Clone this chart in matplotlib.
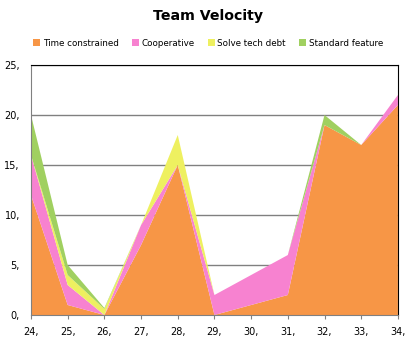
import matplotlib.pyplot as plt
import numpy as np

sprints = [24, 25, 26, 27, 28, 29, 30, 31, 32, 33, 34]
time_constrained = [12, 1, 0, 7, 15, 0, 1, 2, 19, 17, 21]
cooperative = [4, 2, 0, 2, 0, 2, 3, 4, 0, 0, 1]
solve_tech_debt = [0, 1, 0.6, 0, 3, 0, 0, 0, 0, 0, 0]
standard_feature = [4, 1, 0.1, 0, 0, 0, 0, 0, 1, 0, 0]

labels = ["Time constrained", "Cooperative", "Solve tech debt", "Standard feature"]
colors = ["#F79646", "#F782D0", "#EEF060", "#A0D060"]

fig = plt.figure(figsize=(4.16, 3.46), dpi=100)
ax = fig.add_axes([0.0745, 0.0896, 0.882, 0.7225])

ax.stackplot(sprints, time_constrained, cooperative, solve_tech_debt, standard_feature,
             colors=colors, labels=labels, linewidth=0)

ax.set_xlim(24, 34)
ax.set_ylim(0, 25)
ax.set_yticks([0, 5, 10, 15, 20, 25])
ax.set_yticklabels([f"{v}," for v in [0, 5, 10, 15, 20, 25]])
ax.set_xticks(sprints)
ax.set_xticklabels([f"{s}," for s in sprints])
ax.tick_params(labelsize=7, length=3, color="#808080", pad=6)
ax.tick_params(axis="y", length=0, pad=8)
ax.yaxis.grid(True, color="#808080", linewidth=1)
ax.set_axisbelow(True)
for sp in ["left", "bottom"]:
    ax.spines[sp].set_color("#808080")
for sp in ["top", "right"]:
    ax.spines[sp].set_color("black")

fig.text(0.5, 0.955, "Team Velocity", ha="center", va="center", fontsize=10.2, fontweight="bold")
fig.legend(loc="center", bbox_to_anchor=(0.5, 0.875), ncol=4, fontsize=6.3, frameon=False,
           handlelength=0.8, handleheight=0.8, handletextpad=0.3, columnspacing=1.5)

fig.savefig("out.png", dpi=100)
